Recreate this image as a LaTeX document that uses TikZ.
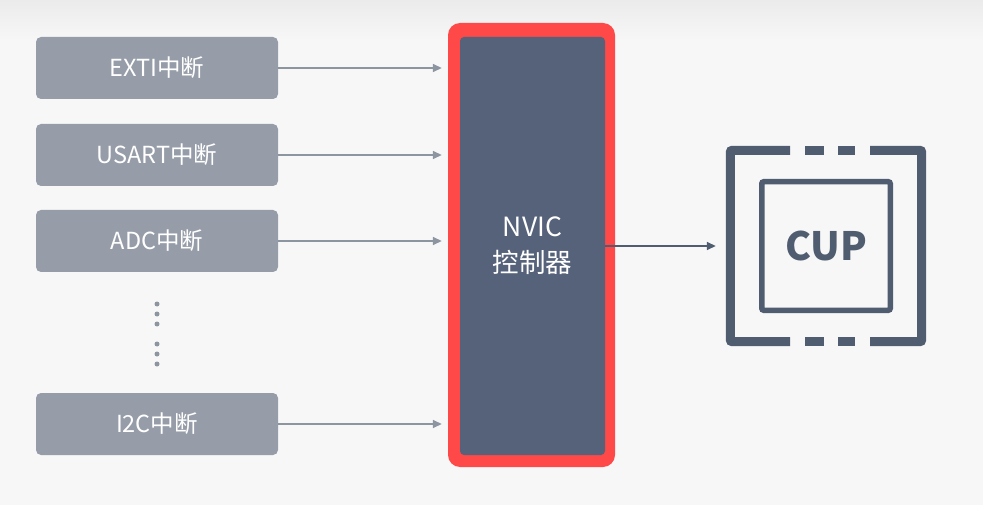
\documentclass[tikz,border=0pt]{standalone}
\usepackage{fontspec}
\setmainfont{Noto Sans CJK SC}
\usetikzlibrary{arrows.meta, positioning}

\definecolor{bggray}{HTML}{F7F7F7}
\definecolor{topgray}{HTML}{EBEBEB}
\definecolor{srcgray}{HTML}{969DA8}
\definecolor{lngray}{HTML}{8D95A1}
\definecolor{alarmred}{HTML}{FF4848}
\definecolor{slate}{HTML}{55627A}
\definecolor{chipdark}{HTML}{505C70}

\begin{document}
\begin{tikzpicture}[x=1pt, y=-1pt,
            src/.style={fill=srcgray, text=white, minimum width=242pt, minimum height=62pt,
                        inner sep=0pt, rounded corners=5pt, font=\fontsize{23.5}{26}\selectfont},
            arr/.style={-{Triangle[length=9pt,width=8pt]}, line width=1.5pt, lngray},
            dot/.style={circle, fill=lngray, inner sep=0pt, minimum size=5pt},
            chipline/.style={line width=9pt, chipdark}
        ]
        % background
        \fill[bggray] (0,0) rectangle (983,505);
        \shade[top color=topgray, bottom color=bggray] (0,0) rectangle (983,40);
        \useasboundingbox (0,0) rectangle (983,505);

        % interrupt sources
        \node[src] (exti) at (157,68) {EXTI中断};
        \node[src] (usart) at (157,155) {USART中断};
        \node[src] (adc) at (157,241) {ADC中断};
        \node[src] (iic) at (157,424) {I2C中断};
        \foreach \y [count=\i] in {304,314,324,344,354,364}
            \node[dot] (dot\i) at (157,\y) {};

        % NVIC controller
        \node[fill=alarmred, minimum width=167pt, minimum height=444pt,
              rounded corners=12pt] (nvicframe) at (531.5,245) {};
        \node[fill=slate, text=white, minimum width=145pt, minimum height=418pt,
              rounded corners=4pt, align=center, font=\fontsize{26.5}{36}\selectfont]
              (nvic) at (532.5,246) {NVIC\\控制器};

        \foreach \s in {exti, usart, adc, iic}
            \draw[arr, shorten >=6pt] (\s.east) -- (\s.east -| nvicframe.west);

        % CPU
        \node[minimum size=200pt, inner sep=0pt] (chip) at (826,246) {};
        \node[draw=chipdark, line width=5.5pt, minimum size=128.5pt, rounded corners=2pt,
              text=chipdark, font=\fontsize{39}{42}\selectfont\bfseries] (cpu) at (826,246) {CUP};
        \draw[chipline, rounded corners=2pt]
            ([xshift=-36pt,yshift=-4.5pt]chip.north) -- ([xshift=4.5pt,yshift=-4.5pt]chip.north west)
            -- ([xshift=4.5pt,yshift=4.5pt]chip.south west) -- ([xshift=-36pt,yshift=4.5pt]chip.south);
        \draw[chipline, rounded corners=2pt]
            ([xshift=44pt,yshift=-4.5pt]chip.north) -- ([xshift=-4.5pt,yshift=-4.5pt]chip.north east)
            -- ([xshift=-4.5pt,yshift=4.5pt]chip.south east) -- ([xshift=44pt,yshift=4.5pt]chip.south);
        \foreach \a/\b in {-21/-2, 12/29} {
            \draw[chipline] ([xshift=\a pt,yshift=-4.5pt]chip.north) -- ([xshift=\b pt,yshift=-4.5pt]chip.north);
            \draw[chipline] ([xshift=\a pt,yshift=4.5pt]chip.south) -- ([xshift=\b pt,yshift=4.5pt]chip.south);
        }

        \draw[arr, chipdark, shorten >=10pt] (nvic.east) -- (chip.west);
        \end{tikzpicture}
\end{document}
